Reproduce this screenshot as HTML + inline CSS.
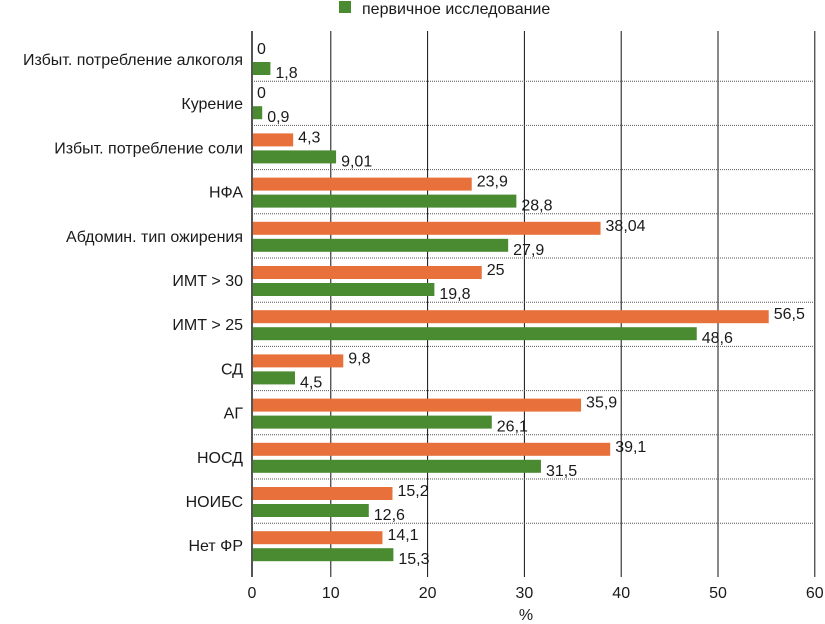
<!DOCTYPE html>
<html><head><meta charset="utf-8"><style>
body{margin:0;background:#fff}
svg{display:block}
text{font-family:"Liberation Sans",sans-serif;font-size:16px;fill:#1a1a1a}
</style></head><body>
<svg id="chart" width="825" height="624"></svg>
<script>
const categories=["Избыт. потребление алкоголя","Курение","Избыт. потребление соли","НФА","Абдомин. тип ожирения","ИМТ > 30","ИМТ > 25","СД","АГ","НОСД","НОИБС","Нет ФР"];
const orangeValues=[0,0,4.3,23.9,38.04,25,56.5,9.8,35.9,39.1,15.2,14.1];
const greenValues=[1.8,0.9,9.01,28.8,27.9,19.8,48.6,4.5,26.1,31.5,12.6,15.3];
const orangeLabels=["0","0","4,3","23,9","38,04","25","56,5","9,8","35,9","39,1","15,2","14,1"];
const greenLabels=["1,8","0,9","9,01","28,8","27,9","19,8","48,6","4,5","26,1","31,5","12,6","15,3"];
const ticks=[0,10,20,30,40,50,60];
const NS="http://www.w3.org/2000/svg";
const svg=document.getElementById('chart');
function xBar(v){return 254+v*9.11;}
function xTick(t){return t===0?252:234+t*9.68;}
const top0=37,rowH=44.2;
function yRow(i){return top0+i*rowH;}
function mk(tag,attrs,txt){const e=document.createElementNS(NS,tag);for(const k in attrs)e.setAttribute(k,attrs[k]);if(txt!==undefined)e.textContent=txt;svg.appendChild(e);return e;}
let e=mk('rect',{x:339,y:1,width:12,height:12,fill:'#4a8a30'});


e=mk('text',{x:362,y:14,'font-size':'17'},'первичное исследование');


ticks.forEach(t=>{
 if(t>0){const g=mk('line',{x1:xTick(t),x2:xTick(t),y1:31,y2:577,stroke:'#111','stroke-width':1});
 
 }
 const tl=mk('text',{x:xTick(t),y:598,'text-anchor':'middle','font-size':'17'},String(t));
 
 
});
for(let i=1;i<categories.length;i++){
 const s=mk('line',{x1:252,x2:816,y1:yRow(i),y2:yRow(i),stroke:'#555','stroke-width':1,'stroke-dasharray':'1,1'});
 
 
}
categories.forEach((c,i)=>{
 const y=yRow(i);
 const l=mk('text',{x:243,y:y+28,'text-anchor':'end'},c);
 
 
 const ob=mk('rect',{x:252,y:y+8,width:Math.max(0,xBar(orangeValues[i])-252),height:13,fill:'#e8703a'});
 if(orangeValues[i]===0)ob.setAttribute('width',0);
 
 
 const ot=mk('text',{x:(orangeValues[i]===0?252:xBar(orangeValues[i]))+5,y:y+17},orangeLabels[i]);
 
 
 const gb=mk('rect',{x:252,y:y+25,width:xBar(greenValues[i])-252,height:13,fill:'#4a8a30'});
 
 
 const gt=mk('text',{x:xBar(greenValues[i])+5,y:y+41},greenLabels[i]);
 
 
});
e=mk('line',{x1:252,x2:252,y1:31,y2:577,stroke:'#555','stroke-width':2});


e=mk('text',{x:526,y:620,'text-anchor':'middle','font-size':'17'},'%');


</script>
</body></html>
